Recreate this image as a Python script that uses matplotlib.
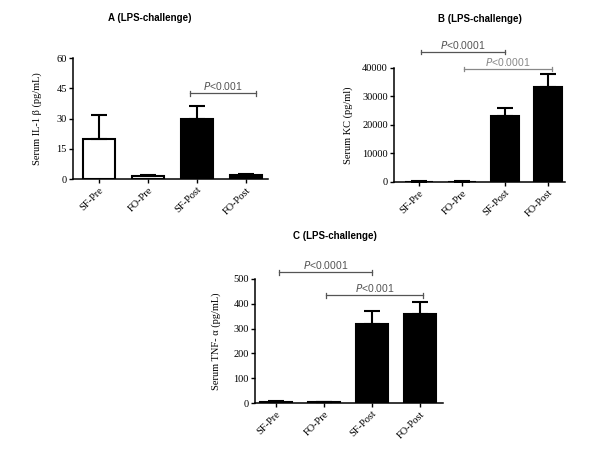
import matplotlib
matplotlib.use("Agg")
import matplotlib.pyplot as plt

categories = ["SF-Pre", "FO-Pre", "SF-Post", "FO-Post"]
fills = ["white", "white", "black", "black"]

il1b_mean = [20, 1.5, 30, 2]
il1b_err = [11.5, 0.4, 6, 0.5]

kc_mean = [150, 150, 23000, 33500]
kc_err = [50, 50, 2800, 4300]

tnf_mean = [5, 3, 320, 357]
tnf_err = [2, 1, 50, 50]

serif = ["Liberation Serif", "DejaVu Serif"]
sans = ["Liberation Sans", "DejaVu Sans"]

fig = plt.figure(figsize=(6, 4.5), dpi=100)


def panel(rect, means, errs, ylim, yticks, ylabel, xlim, title, title_xy, brackets, ylabel_x):
    ax = fig.add_axes(rect)
    x = list(range(len(categories)))
    ax.bar(x, means, width=0.66, color=fills, edgecolor="black", linewidth=1.5, zorder=2)
    for xi, m, e in zip(x, means, errs):
        ax.errorbar([xi], [m], yerr=[[0], [e]], fmt="none", ecolor="black",
                    elinewidth=1.5, capsize=6, capthick=1.5, zorder=3)
    ax.set_xlim(*xlim)
    ax.set_ylim(*ylim)
    ax.set_yticks(yticks)
    ax.set_yticklabels([str(t) for t in yticks], fontfamily=serif, fontsize=7.5)
    ax.set_xticks(x)
    ax.set_xticklabels(categories, rotation=45, ha="right", rotation_mode="anchor",
                       fontfamily=serif, fontsize=7.5)
    for s in ["top", "right"]:
        ax.spines[s].set_visible(False)
    for s in ["left", "bottom"]:
        ax.spines[s].set_linewidth(1.1)
    ax.tick_params(axis="both", direction="out", length=3, width=1.0, pad=1.5)
    ax.set_ylabel(ylabel, fontfamily=serif, fontsize=7.5)
    ax.yaxis.set_label_coords(ylabel_x, 0.5)
    fig.text(title_xy[0], title_xy[1], title, fontfamily=sans, fontsize=7,
             fontweight="bold", ha="center", va="center")
    ymax = ylim[1]
    for (x0, x1, yb, label, col) in brackets:
        ax.plot([x0, x1], [yb, yb], color=col, lw=0.9, clip_on=False)
        h = ymax * 0.02
        ax.plot([x0, x0], [yb - h, yb + h], color=col, lw=0.9, clip_on=False)
        ax.plot([x1, x1], [yb - h, yb + h], color=col, lw=0.9, clip_on=False)
        ax.text((x0 + x1) / 2, yb + ymax * 0.008, r"$\mathit{P}$" + label, color=col,
                fontfamily=sans, fontsize=7.5, ha="center", va="bottom", clip_on=False)
    return ax


panel([0.1217, 0.6022, 0.325, 0.2689], il1b_mean, il1b_err, (0, 60), [0, 15, 30, 45, 60],
      "Serum IL-1 β (pg/mL)", (-0.53, 3.45), "A (LPS-challenge)", (0.25, 0.96),
      [(1.85, 3.2, 42.5, "<0.001", "#555555")], -0.16)

panel([0.6567, 0.5956, 0.285, 0.2533], kc_mean, kc_err, (0, 40000),
      [0, 10000, 20000, 30000, 40000],
      "Serum KC (pg/ml)", (-0.58, 3.4), "B (LPS-challenge)", (0.8, 0.958),
      [(0.05, 2.0, 45600, "<0.0001", "#555555"), (1.05, 3.1, 39650, "<0.0001", "#888888")],
      -0.24)

panel([0.425, 0.1044, 0.3133, 0.2756], tnf_mean, tnf_err, (0, 500),
      [0, 100, 200, 300, 400, 500],
      "Serum TNF- α (pg/mL)", (-0.44, 3.48), "C (LPS-challenge)", (0.558, 0.476),
      [(0.06, 2.0, 527, "<0.0001", "#555555"), (1.05, 3.06, 435, "<0.001", "#555555")], -0.18)

fig.savefig("out.png", dpi=100)
